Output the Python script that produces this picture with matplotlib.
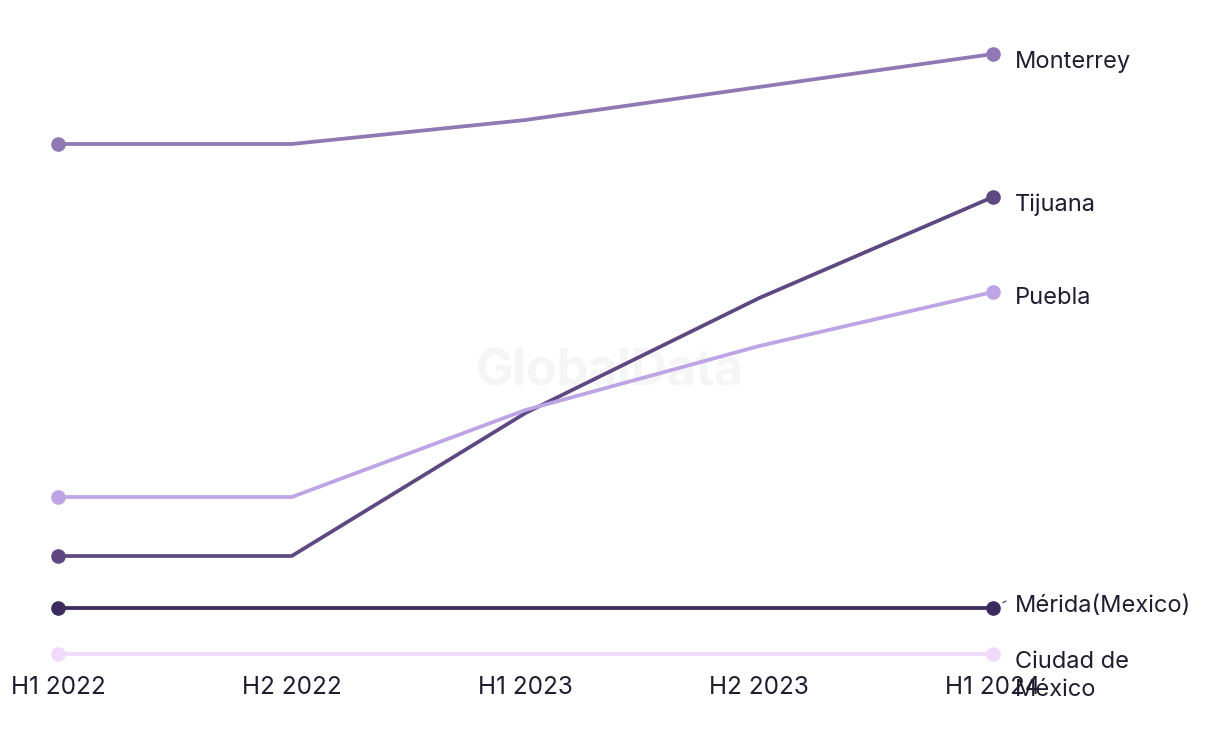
import matplotlib
matplotlib.use("Agg")
import matplotlib.pyplot as plt

periods = ["H1 2022", "H2 2022", "H1 2023", "H2 2023", "H1 2024"]
cities = ["Monterrey", "Tijuana", "Puebla", "Mérida(Mexico)", "Ciudad de\nMéxico"]
monterrey = [55.6, 55.6, 58.0, 61.3, 64.6]
tijuana = [14.4, 14.4, 28.7, 40.2, 50.3]
puebla = [20.3, 20.3, 29.0, 35.4, 40.8]
merida = [9.2, 9.2, 9.2, 9.2, 9.2]
ciudad = [4.6, 4.6, 4.6, 4.6, 4.6]

series = [monterrey, tijuana, puebla, merida, ciudad]
colors = ["#9078b4", "#5e4882", "#bda4e4", "#3b2a5e", "#f1d9f9"]
label_dy = [8, 8, 6, -2, 22]  # pixel offsets for end labels (down positive)

plt.rcParams['font.family'] = ['Inter', 'DejaVu Sans']
fig = plt.figure(figsize=(12.2, 7.44), dpi=100)
ax = fig.add_axes([58/1220, 90/744, (993-58)/1220, 600/744])
x = list(range(len(periods)))

ax.text(610/1220, 1 - 372/744, "GlobalData", fontsize=36, fontweight='bold',
        color='#f5f5f5', ha='center', va='center', zorder=0, transform=fig.transFigure)

for vals, col, name, dy in zip(series, colors, cities, label_dy):
    ax.plot(x, vals, color=col, lw=2.7, marker='o', ms=9.5, markevery=[0, len(x)-1],
            clip_on=False, solid_capstyle='round', zorder=2)
    ax.annotate(name, xy=(x[-1], vals[-1]), xytext=(22, -dy), textcoords='offset pixels',
                ha='left', va='center', fontsize=17, color='#1f1d2e', linespacing=1.4,
                annotation_clip=False)

# tiny leader mark next to the Mérida label
ax.annotate("", xy=(x[-1], merida[-1]), xytext=(13, 7), textcoords='offset pixels',
            arrowprops=dict(arrowstyle='-', color='#3b2a5e', lw=0.8, shrinkA=0, shrinkB=8),
            annotation_clip=False)

ax.set_xlim(0, 4)
ax.set_ylim(4.6, 64.6)
ax.set_xticks(x)
ax.set_xticklabels(periods, fontsize=17.5, color='#1f1d2e')
ax.tick_params(axis='x', length=0, pad=16)
ax.set_yticks([])
for s in ax.spines.values():
    s.set_visible(False)

fig.savefig("out.png", dpi=100, facecolor='white')
